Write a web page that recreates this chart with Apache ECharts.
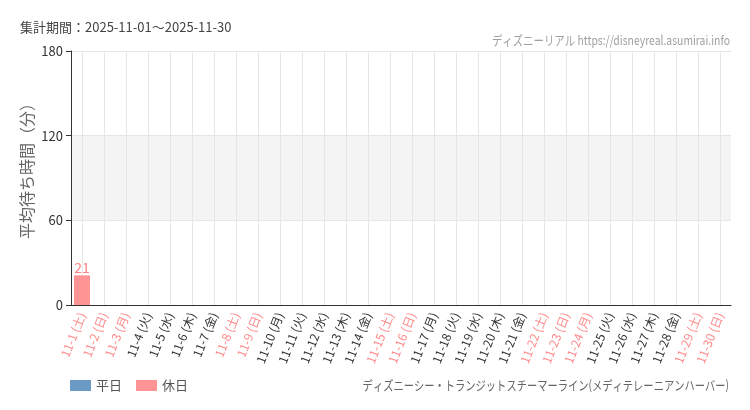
<!DOCTYPE html>
<html><head><meta charset="utf-8">
<script src="https://cdn.jsdelivr.net/npm/echarts@6/dist/echarts.min.js"></script>
<style>html,body{margin:0;padding:0;background:#fff}#c{width:750px;height:410px}</style>
</head><body><div id="c"></div>
<script>
const categories = ['11-1 (土)','11-2 (日)','11-3 (月)','11-4 (火)','11-5 (水)','11-6 (木)','11-7 (金)','11-8 (土)','11-9 (日)','11-10 (月)','11-11 (火)','11-12 (水)','11-13 (木)','11-14 (金)','11-15 (土)','11-16 (日)','11-17 (月)','11-18 (火)','11-19 (水)','11-20 (木)','11-21 (金)','11-22 (土)','11-23 (日)','11-24 (月)','11-25 (火)','11-26 (水)','11-27 (木)','11-28 (金)','11-29 (土)','11-30 (日)'];
const holidayFlags = [1,1,1,0,0,0,0,1,1,0,0,0,0,0,1,1,0,0,0,0,0,1,1,1,0,0,0,0,1,1];
const waitValues = [21,null,null,null,null,null,null,null,null,null,null,null,null,null,null,null,null,null,null,null,null,null,null,null,null,null,null,null,null,null];
const yTicks = [0,60,120,180];
const WEEKDAY = '#6b9ac6', HOLIDAY = '#ff9494';
const weekdayData = waitValues.map((v,i)=> holidayFlags[i] ? null : v);
const holidayData = waitValues.map((v,i)=> holidayFlags[i] ? v : null);
const CJK = '"Noto Sans CJK JP", "Noto Sans", sans-serif';
const chart = echarts.init(document.getElementById('c'));
chart.setOption({
  animation:false,
  textStyle:{fontFamily:CJK},
  title:[
    {text:'集計期間：2025-11-01～2025-11-30', left:15, top:16, textStyle:{fontSize:13, fontWeight:'normal', color:'#444'}}
  ],
  graphic:[
    {type:'text', x:730, y:40, scaleX:0.8, style:{text:'ディズニーリアル https://disneyreal.asumirai.info', align:'right', verticalAlign:'middle', fontSize:13, fontFamily:CJK, fill:'#a0a0a0'}},
    {type:'text', x:729, y:385, scaleX:0.79, style:{text:'ディズニーシー・トランジットスチーマーライン(メディテレーニアンハーバー)', align:'right', verticalAlign:'middle', fontSize:13, fontFamily:CJK, fill:'#666'}}
  ],
  legend:{left:65, top:374, itemWidth:21, itemHeight:11, itemGap:14, icon:'rect', data:['平日','休日'], textStyle:{fontSize:13, color:'#555'}},
  grid:{left:71, right:19, top:51, bottom:105},
  xAxis:{type:'category', data:categories,
    axisLine:{lineStyle:{color:'#333'}},
    axisTick:{alignWithLabel:true, lineStyle:{color:'#333'}},
    splitLine:{show:true, alignWithLabel:true, lineStyle:{color:'#e6e6e6'}},
    axisLabel:{interval:0, rotate:68, fontSize:12, margin:8,
      color:(v,i)=> holidayFlags[i] ? '#ff8a8a' : '#333'}},
  yAxis:{type:'value', min:yTicks[0], max:yTicks[yTicks.length-1], interval:60,
    name:'平均待ち時間（分）', nameLocation:'middle', nameGap:36, nameRotate:90, nameMoveOverlap:false,
    nameTextStyle:{fontSize:16, color:'#666', padding:[0,0,0,22]},
    axisLine:{show:true, lineStyle:{color:'#333'}},
    axisTick:{show:true, lineStyle:{color:'#333'}},
    axisLabel:{fontSize:13, color:'#333', margin:8},
    splitLine:{lineStyle:{color:'#e6e6e6'}},
    splitArea:{show:true, areaStyle:{color:['rgba(255,255,255,0)','#f4f4f4']}}},
  series:[
    {name:'平日', type:'bar', stack:'a', data:weekdayData, barWidth:16, itemStyle:{color:WEEKDAY},
      label:{show:true, position:'top', color:WEEKDAY, fontSize:13, distance:2}},
    {name:'休日', type:'bar', stack:'a', data:holidayData, barWidth:16, itemStyle:{color:HOLIDAY},
      label:{show:true, position:'top', color:'#ff8080', fontSize:14, distance:1}}
  ]
});
</script></body></html>
